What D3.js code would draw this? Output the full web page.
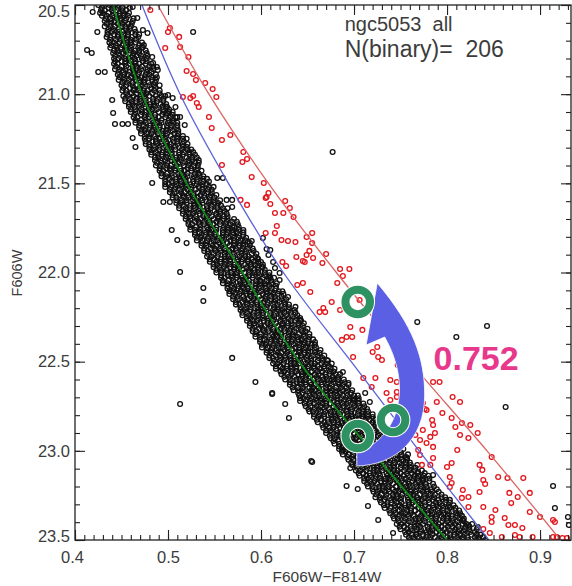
<!DOCTYPE html>
<html>
<head>
<meta charset="utf-8">
<script src="https://cdn.jsdelivr.net/npm/d3@7"></script>
<style>
  body { margin: 0; background: #fff; }
  svg { display: block; }
  text { font-family: "Liberation Sans", Arial, sans-serif; fill: #3c3c3c; }
</style>
</head>
<body>
<svg width="572" height="586"></svg>
<script>
// ---- data: colour (F606W-F814W), magnitude (F606W) ----

// main sequence ridge line, the 0.752 mag binary line and the separating line
const ridgeLine = [[0.441,20.5],[0.472,21.0],[0.520,21.5],[0.580,22.0],[0.641,22.5],[0.719,23.0],[0.800,23.5]];
const cutLine   = [[0.472,20.5],[0.513,21.0],[0.565,21.5],[0.624,22.0],[0.697,22.5],[0.770,23.0],[0.845,23.5]];
const binLine   = [[0.489,20.5],[0.544,21.0],[0.608,21.5],[0.681,22.0],[0.760,22.5],[0.843,23.0],[0.922,23.5]];

// dense main sequence: one row per magnitude step, colours in thousandths
const msRows = [
  [20.500,"425 430 437 441 447 455"],
  [20.515,"429 436 440 446 451 459"],
  [20.530,"428 432 440 445 451 455"],
  [20.545,"430 436 441 448 452 458"],
  [20.560,"429 434 440 448 452 457"],
  [20.575,"433 438 445 449 455 463"],
  [20.590,"432 439 443 449 454 462"],
  [20.605,"434 438 446 451 457 461"],
  [20.620,"432 438 443 450 454 460"],
  [20.635,"436 441 447 455 459 464"],
  [20.650,"435 440 447 451 457 465"],
  [20.665,"435 442 446 452 457 465 469"],
  [20.680,"434 438 446 451 457 461 468"],
  [20.695,"438 444 449 456 460 466"],
  [20.710,"437 442 448 456 460 465 472"],
  [20.725,"439 444 451 455 461 469 474"],
  [20.740,"438 445 449 455 460 468 472"],
  [20.755,"442 446 454 459 465 469 476"],
  [20.770,"441 447 452 459 463 469 477"],
  [20.785,"443 448 454 462 466 471 478"],
  [20.800,"442 447 454 458 464 472 477"],
  [20.815,"443 450 454 460 465 473 477"],
  [20.830,"442 446 454 459 465 469 476 482"],
  [20.845,"444 450 455 462 466 472 480 484"],
  [20.860,"443 448 454 462 466 471 478 484"],
  [20.875,"447 452 459 463 469 477 482"],
  [20.890,"446 453 457 463 468 476 480 487"],
  [20.905,"448 452 460 465 471 475 482 488"],
  [20.920,"447 453 458 465 469 475 483 487"],
  [20.935,"451 456 462 470 474 479 486"],
  [20.950,"450 455 462 466 472 480 485 491"],
  [20.965,"452 459 463 469 474 482 486"],
  [20.980,"451 455 463 468 474 478 485 491"],
  [20.995,"455 461 466 473 477 483 491"],
  [21.010,"452 457 463 471 475 480 487 493 497"],
  [21.025,"454 459 466 470 476 484 489 495"],
  [21.040,"454 461 465 471 476 484 488 495"],
  [21.055,"458 462 470 475 481 485 492 498"],
  [21.070,"458 464 469 476 480 486 494 498"],
  [21.085,"460 465 471 479 483 488 495 501"],
  [21.100,"460 465 472 476 482 490 495 501 505"],
  [21.115,"464 471 475 481 486 494 498 505"],
  [21.130,"463 467 475 480 486 490 497 503 508"],
  [21.145,"465 471 476 483 487 493 501 505"],
  [21.160,"465 470 476 484 488 493 500 506 510"],
  [21.175,"469 474 481 485 491 499 504 510"],
  [21.190,"469 476 480 486 491 499 503 510"],
  [21.205,"471 475 483 488 494 498 505 511"],
  [21.220,"471 477 482 489 493 499 507 511"],
  [21.235,"475 480 486 494 498 503 510 516"],
  [21.250,"475 480 487 491 497 505 510 516 520"],
  [21.265,"476 483 487 493 498 506 510 517"],
  [21.280,"476 480 488 493 499 503 510 516 521"],
  [21.295,"480 486 491 498 502 508 516 520"],
  [21.310,"480 485 491 499 503 508 515 521 525"],
  [21.325,"482 487 494 498 504 512 517 523 527"],
  [21.340,"482 489 493 499 504 512 516 523 529"],
  [21.355,"486 490 498 503 509 513 520 526 531"],
  [21.370,"486 492 497 504 508 514 522 526 533"],
  [21.385,"488 493 499 507 511 516 523 529 533"],
  [21.400,"487 492 499 503 509 517 522 528 532"],
  [21.415,"491 498 502 508 513 521 525 532"],
  [21.430,"491 495 503 508 514 518 525 531 536"],
  [21.445,"493 499 504 511 515 521 529 533"],
  [21.460,"493 498 504 512 516 521 528 534 538"],
  [21.475,"497 502 509 513 519 527 532 538 542"],
  [21.490,"497 504 508 514 519 527 531 538 544"],
  [21.505,"497 501 509 514 520 524 531 537 542"],
  [21.520,"497 503 508 515 519 525 533 537 544 549"],
  [21.535,"502 507 513 521 525 530 537 543 547"],
  [21.550,"502 507 514 518 524 532 537 543 547"],
  [21.565,"505 512 516 522 527 535 539 546 552"],
  [21.580,"505 509 517 522 528 532 539 545 550"],
  [21.595,"509 515 520 527 531 537 545 549 556"],
  [21.610,"509 514 520 528 532 537 544 550 554"],
  [21.625,"512 517 524 528 534 542 547 553 557"],
  [21.640,"512 519 523 529 534 542 546 553 559 564"],
  [21.655,"516 520 528 533 539 543 550 556 561"],
  [21.670,"516 522 527 534 538 544 552 556 563"],
  [21.685,"519 524 530 538 542 547 554 560 564"],
  [21.700,"519 524 531 535 541 549 554 560 564 571"],
  [21.715,"522 529 533 539 544 552 556 563 569 574"],
  [21.730,"522 526 534 539 545 549 556 562 567 575"],
  [21.745,"524 530 535 542 546 552 560 564 571 576"],
  [21.760,"524 529 535 543 547 552 559 565 569 576"],
  [21.775,"529 534 541 545 551 559 564 570 574 581"],
  [21.790,"529 536 540 546 551 559 563 570 576 581"],
  [21.805,"531 535 543 548 554 558 565 571 576 584"],
  [21.820,"531 537 542 549 553 559 567 571 578 583"],
  [21.835,"536 541 547 555 559 564 571 577 581 588"],
  [21.850,"536 541 548 552 558 566 571 577 581 588"],
  [21.865,"539 546 550 556 561 569 573 580 586 591"],
  [21.880,"539 543 551 556 562 566 573 579 584 592"],
  [21.895,"543 549 554 561 565 571 579 583 590 595"],
  [21.910,"542 547 553 561 565 570 577 583 587 594"],
  [21.925,"545 550 557 561 567 575 580 586 590 597"],
  [21.940,"545 552 556 562 567 575 579 586 592 597"],
  [21.955,"549 553 561 566 572 576 583 589 594 602"],
  [21.970,"549 555 560 567 571 577 585 589 596 601"],
  [21.985,"552 557 563 571 575 580 587 593 597 604"],
  [22.000,"552 557 564 568 574 582 587 593 597 604 609"],
  [22.015,"557 564 568 574 579 587 591 598 604 609"],
  [22.030,"557 561 569 574 580 584 591 597 602 610 614"],
  [22.045,"559 565 570 577 581 587 595 599 606 611"],
  [22.060,"559 564 570 578 582 587 594 600 604 611 617"],
  [22.075,"564 569 576 580 586 594 599 605 609 616"],
  [22.090,"564 571 575 581 586 594 598 605 611 616"],
  [22.105,"566 570 578 583 589 593 600 606 611 619 623"],
  [22.120,"566 572 577 584 588 594 602 606 613 618 624"],
  [22.135,"570 575 581 589 593 598 605 611 615 622"],
  [22.150,"570 575 582 586 592 600 605 611 615 622 627"],
  [22.165,"573 580 584 590 595 603 607 614 620 625"],
  [22.180,"573 577 585 590 596 600 607 613 618 626 630"],
  [22.195,"578 584 589 596 600 606 614 618 625 630"],
  [22.210,"578 583 589 597 601 606 613 619 623 630 636"],
  [22.225,"580 585 592 596 602 610 615 621 625 632 637"],
  [22.240,"580 587 591 597 602 610 614 621 627 632 639"],
  [22.255,"585 589 597 602 608 612 619 625 630 638 642"],
  [22.270,"585 591 596 603 607 613 621 625 632 637 643"],
  [22.285,"588 593 599 607 611 616 623 629 633 640 646"],
  [22.300,"588 593 600 604 610 618 623 629 633 640 645"],
  [22.315,"591 598 602 608 613 621 625 632 638 643 650"],
  [22.330,"591 595 603 608 614 618 625 631 636 644 648"],
  [22.345,"594 600 605 612 616 622 630 634 641 646 652"],
  [22.360,"594 599 605 613 617 622 629 635 639 646 652"],
  [22.375,"599 604 611 615 621 629 634 640 644 651 656"],
  [22.390,"599 606 610 616 621 629 633 640 646 651 658"],
  [22.405,"601 605 613 618 624 628 635 641 646 654 658"],
  [22.420,"601 607 612 619 623 629 637 641 648 653 659"],
  [22.435,"606 611 617 625 629 634 641 647 651 658 664"],
  [22.450,"606 611 618 622 628 636 641 647 651 658 663"],
  [22.465,"609 616 620 626 631 639 643 650 656 661 668"],
  [22.480,"609 613 621 626 632 636 643 649 654 662 666"],
  [22.495,"614 620 625 632 636 642 650 654 661 666 672"],
  [22.510,"613 618 624 632 636 641 648 654 658 665 671 676"],
  [22.525,"616 621 628 632 638 646 651 657 661 668 673"],
  [22.540,"616 623 627 633 638 646 650 657 663 668 675 679"],
  [22.555,"621 625 633 638 644 648 655 661 666 674 678"],
  [22.570,"622 628 633 640 644 650 658 662 669 674 680 685"],
  [22.585,"625 630 636 644 648 653 660 666 670 677 683"],
  [22.600,"626 631 638 642 648 656 661 667 671 678 683 689"],
  [22.615,"631 638 642 648 653 661 665 672 678 683 690"],
  [22.630,"631 635 643 648 654 658 665 671 676 684 688 694"],
  [22.645,"634 640 645 652 656 662 670 674 681 686 692"],
  [22.660,"635 640 646 654 658 663 670 676 680 687 693 698"],
  [22.675,"640 645 652 656 662 670 675 681 685 692 697"],
  [22.690,"641 648 652 658 663 671 675 682 688 693 700 704"],
  [22.705,"642 646 654 659 665 669 676 682 687 695 699 705"],
  [22.720,"642 648 653 660 664 670 678 682 689 694 700 705"],
  [22.735,"647 652 658 666 670 675 682 688 692 699 705 710"],
  [22.750,"648 653 660 664 670 678 683 689 693 700 705 711"],
  [22.765,"651 658 662 668 673 681 685 692 698 703 710 714"],
  [22.780,"652 656 664 669 675 679 686 692 697 705 709 715"],
  [22.795,"657 663 668 675 679 685 693 697 704 709 715 720"],
  [22.810,"657 662 668 676 680 685 692 698 702 709 715 720"],
  [22.825,"660 665 672 676 682 690 695 701 705 712 717 723"],
  [22.840,"661 668 672 678 683 691 695 702 708 713 720 724"],
  [22.855,"666 670 678 683 689 693 700 706 711 719 723 729"],
  [22.870,"667 673 678 685 689 695 703 707 714 719 725 730"],
  [22.885,"670 675 681 689 693 698 705 711 715 722 728 733"],
  [22.900,"670 675 682 686 692 700 705 711 715 722 727 733"],
  [22.915,"674 681 685 691 696 704 708 715 721 726 733 737"],
  [22.930,"675 679 687 692 698 702 709 715 720 728 732 738"],
  [22.945,"678 684 689 696 700 706 714 718 725 730 736 741"],
  [22.960,"679 684 690 698 702 707 714 720 724 731 737 742"],
  [22.975,"684 689 696 700 706 714 719 725 729 736 741 747"],
  [22.990,"684 691 695 701 706 714 718 725 731 736 743 747 753"],
  [23.005,"687 691 699 704 710 714 721 727 732 740 744 750"],
  [23.020,"688 694 699 706 710 716 724 728 735 740 746 751 758"],
  [23.035,"693 698 704 712 716 721 728 734 738 745 751 756"],
  [23.050,"694 699 706 710 716 724 729 735 739 746 751 757"],
  [23.065,"697 704 708 714 719 727 731 738 744 749 756 760"],
  [23.080,"698 702 710 715 721 725 732 738 743 751 755 761 768"],
  [23.095,"703 709 714 721 725 731 739 743 750 755 761 766"],
  [23.110,"702 707 713 721 725 730 737 743 747 754 760 765 773"],
  [23.125,"705 710 717 721 727 735 740 746 750 757 762 768 776"],
  [23.140,"706 713 717 723 728 736 740 747 753 758 765 769 775 780"],
  [23.155,"711 715 723 728 734 738 745 751 756 764 768 774 781"],
  [23.170,"711 717 722 729 733 739 747 751 758 763 769 774 781"],
  [23.185,"714 719 725 733 737 742 749 755 759 766 772 777 785"],
  [23.200,"715 720 727 731 737 745 750 756 760 767 772 778 786"],
  [23.215,"720 727 731 737 742 750 754 761 767 772 779 783 789"],
  [23.230,"721 725 733 738 744 748 755 761 766 774 778 784 791"],
  [23.245,"724 730 735 742 746 752 760 764 771 776 782 787 794"],
  [23.260,"723 728 734 742 746 751 758 764 768 775 781 786 794 798"],
  [23.275,"728 733 740 744 750 758 763 769 773 780 785 791 799 803"],
  [23.290,"729 736 740 746 751 759 763 770 776 781 788 792 798 803"],
  [23.305,"732 736 744 749 755 759 766 772 777 785 789 795 802 807"],
  [23.320,"733 739 744 751 755 761 769 773 780 785 791 796 803 809"],
  [23.335,"738 743 749 757 761 766 773 779 783 790 796 801 809 813"],
  [23.350,"739 744 751 755 761 769 774 780 784 791 796 802 810 814"],
  [23.365,"742 749 753 759 764 772 776 783 789 794 801 805 811 816"],
  [23.380,"743 747 755 760 766 770 777 783 788 796 800 806 813 818"],
  [23.395,"748 754 759 766 770 776 784 788 795 800 806 811 818"],
  [23.410,"746 751 757 765 769 774 781 787 791 798 804 809 817 821 827"],
  [23.425,"749 754 761 765 771 779 784 790 794 801 806 812 820 824"],
  [23.440,"750 757 761 767 772 780 784 791 797 802 809 813 819 824 832"],
  [23.455,"755 759 767 772 778 782 789 795 800 808 812 818 825 830"],
  [23.470,"756 762 767 774 778 784 792 796 803 808 814 819 826 832 836"],
  [23.485,"759 764 770 778 782 787 794 800 804 811 817 822 830 834"],
  [23.500,"760 765 772 776 782 790 795 801 805 812 817 823 831 835 841"]
];

// stars scattered around the sequence
const fieldStars = [
  [0.413,20.752],[0.418,20.769],[0.425,20.876],[0.432,20.876],[0.424,20.651],[0.427,20.545],[0.419,20.539],
  [0.440,21.033],[0.441,21.106],[0.443,21.167],[0.451,21.167],[0.457,21.167],[0.462,21.246],[0.465,21.296],
  [0.483,21.498],[0.527,20.651],[0.478,20.657],[0.473,20.736],[0.483,20.792],[0.488,20.848],[0.499,21.072],
  [0.510,21.128],[0.518,21.173],[0.489,20.864],[0.484,20.825],[0.500,21.005],[0.505,21.022],[0.513,21.128],
  [0.499,21.106],[0.508,21.072],[0.473,20.640],[0.467,20.573],[0.462,20.511],
  [0.504,21.762],[0.510,21.818],[0.520,21.835],[0.513,21.997],[0.538,22.087],[0.538,22.160],[0.569,22.479],
  [0.594,22.614],[0.612,22.676],[0.590,21.823],[0.602,21.807],[0.610,21.874],[0.615,21.975],[0.620,22.042],
  [0.629,22.137],[0.637,22.193],[0.569,21.633],[0.559,21.470],[0.553,21.470],[0.563,21.593],[0.581,21.762],
  [0.596,21.919],[0.602,21.969],[0.608,22.031],[0.495,21.605],[0.502,21.605],[0.569,21.593],[0.586,21.829],
  [0.606,21.868],[0.608,21.902],[0.600,21.941],[0.613,21.941],[0.620,22.003],[0.569,21.745],[0.677,21.324],
  [0.642,22.266],[0.647,22.395],[0.671,22.491],[0.676,22.603],[0.688,22.558],[0.694,22.620],[0.699,22.715],
  [0.717,22.726],[0.712,22.676],[0.687,22.844],[0.688,22.995],[0.655,23.063],[0.696,23.096],[0.768,22.278],
  [0.810,22.362],[0.843,22.300],[0.863,22.754],[0.710,22.810],[0.612,22.681],[0.654,23.057],[0.626,22.737],
  [0.630,22.816],[0.692,23.197],[0.715,23.309],[0.704,23.214],[0.726,23.388],[0.742,23.461],[0.687,22.984],
  [0.757,23.040],[0.769,23.119],[0.774,23.164],[0.785,23.136],[0.803,23.315],[0.817,23.388],[0.823,23.416],
  [0.833,23.427],[0.839,23.483],[0.914,23.197],[0.916,23.321],[0.930,23.371],[0.931,23.416],[0.513,22.737]
];

// stars selected as binaries
const binaryStars = [
  [0.481,20.528],[0.502,20.629],[0.500,20.651],[0.512,20.679],[0.497,20.741],[0.513,20.736],[0.522,20.792],
  [0.520,20.870],[0.527,20.887],[0.530,20.921],[0.540,20.937],[0.548,20.971],[0.552,21.016],[0.527,21.010],
  [0.524,21.022],[0.516,21.016],[0.531,21.050],[0.533,21.072],[0.544,21.128],[0.547,21.190],[0.558,21.257],
  [0.567,21.229],[0.558,21.397],[0.581,21.324],[0.580,21.380],[0.585,21.364],[0.590,21.465],[0.603,21.498],
  [0.608,21.554],[0.606,21.577],[0.605,21.582],[0.578,21.593],[0.585,21.621],[0.610,21.616],[0.626,21.599],
  [0.631,21.638],[0.615,21.666],[0.624,21.666],[0.635,21.689],[0.617,21.739],[0.605,21.779],[0.615,21.779],
  [0.622,21.818],[0.629,21.823],[0.637,21.829],[0.649,21.801],[0.655,21.779],[0.655,21.835],[0.652,21.879],
  [0.649,21.902],[0.670,21.896],[0.638,21.913],[0.645,21.936],[0.656,21.919],[0.666,21.947],[0.685,21.980],
  [0.695,21.980],[0.688,22.020],[0.623,21.941],[0.627,21.964],[0.639,22.070],[0.647,21.941],[0.682,22.059],
  [0.645,22.059],[0.653,22.109],[0.706,22.154],[0.676,22.165],[0.667,22.199],[0.663,22.222],[0.669,22.222],
  [0.685,22.210],[0.696,22.306],[0.709,22.322],[0.687,22.378],[0.692,22.362],[0.698,22.362],[0.699,22.474],
  [0.725,22.418],[0.720,22.446],[0.726,22.474],[0.730,22.491],[0.755,22.474],[0.747,22.519],[0.710,22.592],
  [0.723,22.592],[0.719,22.642],[0.739,22.603],[0.746,22.614],[0.757,22.620],[0.746,22.698],[0.739,22.715],
  [0.785,22.614],[0.792,22.614],[0.806,22.698],[0.789,22.726],[0.814,22.726],[0.774,22.732],[0.776,22.765],
  [0.795,22.788],[0.784,22.827],[0.785,22.855],[0.805,22.816],[0.809,22.866],[0.816,22.844],[0.825,22.855],
  [0.814,22.911],[0.833,22.900],[0.766,22.911],[0.778,22.956],[0.771,22.939],[0.811,22.995],[0.785,23.040],
  [0.800,23.091],[0.835,23.079],[0.838,23.107],[0.848,23.035],[0.855,23.147],[0.865,23.152],[0.882,23.152],
  [0.746,22.670],[0.768,22.754],[0.778,22.771],[0.774,22.883],[0.782,22.922],[0.785,22.978],[0.771,23.023],
  [0.773,23.079],[0.735,22.676],[0.766,22.648],[0.771,22.676],[0.787,22.900],[0.823,22.928],[0.769,22.995],
  [0.782,23.079],[0.805,23.068],[0.803,23.147],[0.803,23.203],[0.817,23.220],[0.823,23.259],[0.835,23.231],
  [0.839,23.164],[0.823,23.315],[0.839,23.315],[0.848,23.371],[0.848,23.399],[0.862,23.377],[0.866,23.416],
  [0.873,23.416],[0.881,23.433],[0.889,23.343],[0.900,23.371],[0.914,23.388],[0.918,23.483],[0.924,23.489],
  [0.929,23.489],[0.846,23.461],[0.878,23.483],[0.892,23.483],[0.859,23.483],[0.805,23.180],[0.841,23.186],
  [0.867,23.236],[0.889,23.236],[0.876,23.259],[0.816,23.264],[0.869,23.293],[0.852,23.332],[0.916,23.399],
  [0.839,23.439],[0.873,23.472],[0.914,23.483]
];

// tick values
const xMajor = [0.4, 0.5, 0.6, 0.7, 0.8, 0.9];
const yMajor = [20.5, 21.0, 21.5, 22.0, 22.5, 23.0, 23.5];

// annotation: rings, curved arrow outline and the offset label
const rings = [[0.704,22.165],[0.742,22.827],[0.704,22.917]];
const arrowOutline = [
  ["M",0.703,23.085],
  ["C",0.744,23.079, 0.776,22.939, 0.776,22.687],
  ["C",0.776,22.480, 0.764,22.300, 0.725,22.059],
  ["L",0.713,22.407],
  ["L",0.733,22.362],
  ["C",0.747,22.491, 0.752,22.631, 0.747,22.743],
  ["C",0.743,22.855, 0.728,22.967, 0.703,23.007]
];
const offsetLabel = {text: "0.752", c: 0.7855, m: 22.545};

// ---- chart ----
const svg = d3.select("svg");

const x = d3.scaleLinear().domain([0.4, 0.9333]).range([75, 571]);
const y = d3.scaleLinear().domain([20.5, 23.5]).range([5, 540]);

svg.append("clipPath").attr("id", "plotclip")
  .append("rect")
    .attr("x", x(0.4)).attr("y", y(20.5))
    .attr("width", x(0.9333) - x(0.4)).attr("height", y(23.5) - y(20.5));

const plot = svg.append("g").attr("clip-path", "url(#plotclip)");

// unpack the row strings into [colour, mag]
const msStars = [];
msRows.forEach(([m, s]) => s.split(" ").forEach(c => msStars.push([+c / 1000, m])));

plot.append("g")
  .selectAll("circle")
  .data(msStars.concat(fieldStars))
  .join("circle")
    .attr("cx", d => x(d[0]))
    .attr("cy", d => y(d[1]))
    .attr("r", 2.4)
    .attr("fill", "none")
    .attr("stroke", "#111")
    .attr("stroke-width", 1.3);

plot.append("g")
  .selectAll("circle")
  .data(binaryStars)
  .join("circle")
    .attr("cx", d => x(d[0]))
    .attr("cy", d => y(d[1]))
    .attr("r", 2.4)
    .attr("fill", "none")
    .attr("stroke", "#e3161c")
    .attr("stroke-width", 1.3);

const line = d3.line()
  .x(d => x(d[0]))
  .y(d => y(d[1]))
  .curve(d3.curveCatmullRom);

plot.append("path").datum(cutLine)
  .attr("d", line).attr("fill", "none").attr("stroke", "#5a62d6").attr("stroke-width", 1.3);
plot.append("path").datum(binLine)
  .attr("d", line).attr("fill", "none").attr("stroke", "#db6464").attr("stroke-width", 1.3);
plot.append("path").datum(ridgeLine)
  .attr("d", line).attr("fill", "none").attr("stroke", "#0f8a1a").attr("stroke-width", 1.8);

// axes: inward ticks on all four sides
function styleAxis(g) {
  g.select(".domain").remove();
  g.selectAll(".tick line").attr("stroke", "#222").attr("stroke-width", 1.1);
  g.selectAll(".tick text")
    .style("font-family", "'Liberation Sans', Arial, sans-serif")
    .style("font-size", "16.5px")
    .attr("fill", "#3c3c3c");
}

const xMinor = d3.range(40, 94).map(v => v / 100);
const yMinor = d3.range(205, 236).map(v => v / 10);

svg.append("g").attr("transform", `translate(0,${y(23.5)})`)
  .call(d3.axisBottom(x).tickValues(xMinor).tickSize(-5).tickSizeOuter(0).tickFormat(""))
  .call(styleAxis);
const xAxisG = svg.append("g").attr("transform", `translate(0,${y(23.5)})`)
  .call(d3.axisBottom(x).tickValues(xMajor).tickSize(-10).tickSizeOuter(0).tickPadding(11).tickFormat(d3.format(".1f")))
  .call(styleAxis);
// first label nudged inside the frame corner
xAxisG.selectAll(".tick text").filter(d => d === 0.4).attr("dx", -3);

svg.append("g").attr("transform", `translate(0,${y(20.5)})`)
  .call(d3.axisTop(x).tickValues(xMinor).tickSize(-5).tickSizeOuter(0).tickFormat(""))
  .call(styleAxis);
svg.append("g").attr("transform", `translate(0,${y(20.5)})`)
  .call(d3.axisTop(x).tickValues(xMajor).tickSize(-10).tickSizeOuter(0).tickFormat(""))
  .call(styleAxis);

svg.append("g").attr("transform", `translate(${x(0.4)},0)`)
  .call(d3.axisLeft(y).tickValues(yMinor).tickSize(-5).tickSizeOuter(0).tickFormat(""))
  .call(styleAxis);
const yAxisG = svg.append("g").attr("transform", `translate(${x(0.4)},0)`)
  .call(d3.axisLeft(y).tickValues(yMajor).tickSize(-10).tickSizeOuter(0).tickPadding(5).tickFormat(d3.format(".1f")))
  .call(styleAxis);
// end labels kept inside the picture
yAxisG.selectAll(".tick text").filter(d => d === 20.5).attr("y", 6);
yAxisG.selectAll(".tick text").filter(d => d === 23.5).attr("y", -4);

svg.append("g").attr("transform", `translate(${x(0.9333)},0)`)
  .call(d3.axisRight(y).tickValues(yMinor).tickSize(-5).tickSizeOuter(0).tickFormat(""))
  .call(styleAxis);
svg.append("g").attr("transform", `translate(${x(0.9333)},0)`)
  .call(d3.axisRight(y).tickValues(yMajor).tickSize(-10).tickSizeOuter(0).tickFormat(""))
  .call(styleAxis);

svg.append("rect")
  .attr("x", x(0.4)).attr("y", y(20.5))
  .attr("width", x(0.9333) - x(0.4)).attr("height", y(23.5) - y(20.5))
  .attr("fill", "none").attr("stroke", "#222").attr("stroke-width", 1.3);

// axis titles
svg.append("text")
  .attr("x", 327).attr("y", 582)
  .attr("text-anchor", "middle")
  .style("font-size", "15.5px")
  .text("F606W\u2212F814W");

svg.append("text")
  .attr("transform", "translate(22,273) rotate(-90)")
  .attr("text-anchor", "middle")
  .style("font-size", "14.5px")
  .text("F606W");

// in-plot labels
svg.append("text")
  .attr("x", x(0.69)).attr("y", 31)
  .style("font-size", "20px").style("white-space", "pre")
  .text("ngc5053  all");
svg.append("text")
  .attr("x", x(0.69)).attr("y", 57)
  .style("font-size", "23px").style("white-space", "pre")
  .text("N(binary)=  206");

// curved arrow from the single stars to the binary line
const ap = d3.path();
arrowOutline.forEach(s => {
  if (s[0] === "M") ap.moveTo(x(s[1]), y(s[2]));
  else if (s[0] === "L") ap.lineTo(x(s[1]), y(s[2]));
  else ap.bezierCurveTo(x(s[1]), y(s[2]), x(s[3]), y(s[4]), x(s[5]), y(s[6]));
});
ap.closePath();
svg.append("path")
  .attr("d", ap.toString())
  .attr("fill", "#5b5fe3")
  .attr("stroke", "#ffffff")
  .attr("stroke-width", 0.8);

const ringG = svg.append("g");
ringG.selectAll("circle.halo")
  .data(rings)
  .join("circle")
    .attr("class", "halo")
    .attr("cx", d => x(d[0])).attr("cy", d => y(d[1]))
    .attr("r", 12.3).attr("fill", "none")
    .attr("stroke", "#ffffff").attr("stroke-width", 10);
ringG.selectAll("circle.ring")
  .data(rings)
  .join("circle")
    .attr("class", "ring")
    .attr("cx", d => x(d[0])).attr("cy", d => y(d[1]))
    .attr("r", 12.3).attr("fill", "none")
    .attr("stroke", "#2e9161").attr("stroke-width", 8);

svg.append("text")
  .attr("x", x(offsetLabel.c)).attr("y", y(offsetLabel.m))
  .style("font-size", "34px").style("font-weight", "bold")
  .style("fill", "#e8388c")
  .text(offsetLabel.text);
</script>
</body>
</html>
